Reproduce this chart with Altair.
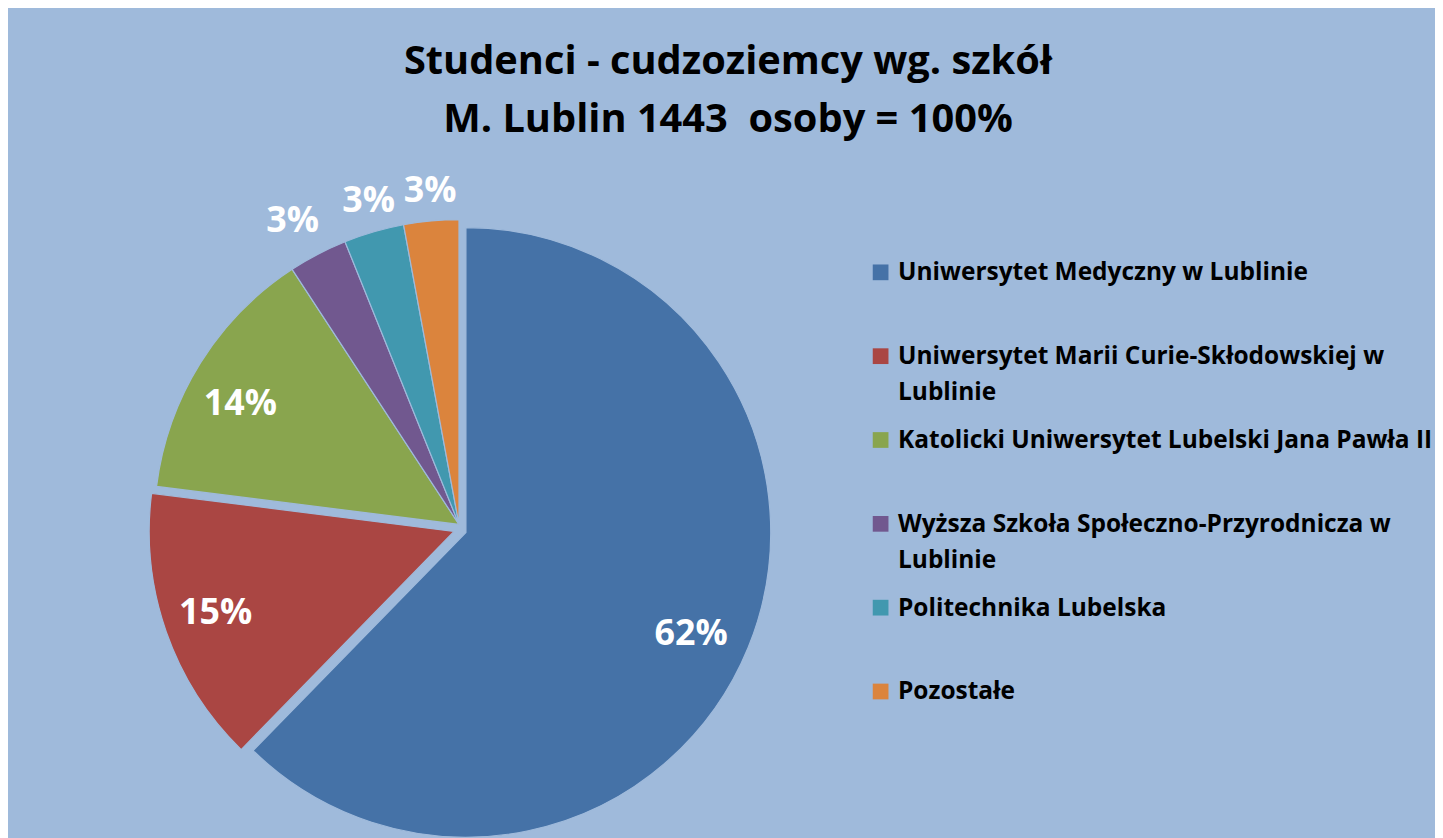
import math
import altair as alt
import pandas as pd

# ---- data ----
schools = [
    "Uniwersytet Medyczny w Lublinie",
    "Uniwersytet Marii Curie-Skłodowskiej w Lublinie",
    "Katolicki Uniwersytet Lubelski Jana Pawła II",
    "Wyższa Szkoła Społeczno-Przyrodnicza w Lublinie",
    "Politechnika Lubelska",
    "Pozostałe",
]
legend_labels = [
    "Uniwersytet Medyczny w Lublinie",
    "Uniwersytet Marii Curie-Skłodowskiej w\nLublinie",
    "Katolicki Uniwersytet Lubelski Jana Pawła II",
    "Wyższa Szkoła Społeczno-Przyrodnicza w\nLublinie",
    "Politechnika Lubelska",
    "Pozostałe",
]
students = [899, 212, 199, 45, 46, 42]
pct_labels = ["62%", "15%", "14%", "3%", "3%", "3%"]
title_lines = ["Studenci - cudzoziemcy wg. szkół", "M. Lublin 1443\u00a0 osoby = 100%"]

colors = ["#4572A7", "#AA4643", "#89A54E", "#71588F", "#4198AF", "#DB843D"]
BG = "#9FBADB"
FONT = "Open Sans"

df = pd.DataFrame({
    "idx": list(range(len(schools))),
    "school": schools,
    "legend_label": legend_labels,
    "students": students,
    "pct": pct_labels,
})
total = sum(students)

base = alt.Chart(df).transform_window(
    cum="sum(students)", sort=[alt.SortField("idx")], frame=[None, 0]
).transform_calculate(
    start="datum.cum - datum.students",
    mid="datum.cum - datum.students / 2",
)

theta_scale = alt.Scale(domain=[0, total], range=[0, 2 * math.pi])
color_enc = alt.Color("school:N", scale=alt.Scale(domain=schools, range=colors), legend=None)

R = 306.5


def slices(cond, cx, cy):
    return base.transform_filter(cond).mark_arc(
        outerRadius=R, stroke=BG, strokeWidth=1.2
    ).encode(
        theta=alt.Theta("start:Q", scale=theta_scale, stack=False),
        theta2="cum:Q",
        color=color_enc,
        x=alt.value(cx),
        y=alt.value(cy),
    )


def labels(cond, cx, cy, r, dx=0, dy=0):
    return base.transform_filter(cond).mark_text(
        radius=r, font=FONT, fontWeight="bold", fontSize=36, color="white",
        align="center", baseline="middle", dx=dx, dy=dy,
    ).encode(
        theta=alt.Theta("mid:Q", scale=theta_scale, stack=False),
        text="pct:N",
        x=alt.value(cx),
        y=alt.value(cy),
    )


BX, BY = 460.5, 525
RX, RY = 448.5, 524
OX, OY = 453.5, 517

blue = slices("datum.idx == 0", BX, BY)
red = slices("datum.idx == 1", RX, RY)
rest = slices("datum.idx >= 2", OX, OY)

lbl_blue = labels("datum.idx == 0", BX, BY, 252, dx=-7, dy=7)
lbl_red = labels("datum.idx == 1", RX, RY, 254, dy=-2)
lbl_green = labels("datum.idx == 2", OX, OY, 251, dx=-7, dy=12)
lbl_s1 = labels("datum.idx == 3", OX, OY, 340, dx=-10, dy=-4)
lbl_s2 = labels("datum.idx == 4", OX, OY, 340, dx=4, dy=1)
lbl_s3 = labels("datum.idx == 5", OX, OY, 340, dx=2, dy=3)

leg_y = alt.Y("school:N", scale=alt.Scale(domain=schools, range=[263.5, 685], padding=0), axis=None)
leg_sym = alt.Chart(df).mark_square(size=250, opacity=1).encode(
    x=alt.value(877.5), y=leg_y, color=color_enc
)
leg_txt = alt.Chart(df).mark_text(
    align="left", baseline="alphabetic", dy=8, lineBreak="\n", lineHeight=36,
    font=FONT, fontWeight="bold", fontSize=24.6, color="black",
).encode(x=alt.value(895), y=leg_y, text="legend_label:N")

title = alt.Chart(pd.DataFrame({"t": ["\n".join(title_lines)]})).mark_text(
    align="center", baseline="alphabetic", lineBreak="\n", lineHeight=57.5,
    font=FONT, fontWeight="bold", fontSize=40, color="black",
).encode(x=alt.value(724), y=alt.value(64.5), text="t:N")

chart = alt.layer(
    rest, red, blue, lbl_blue, lbl_red, lbl_green, lbl_s1, lbl_s2, lbl_s3,
    leg_sym, leg_txt, title
).properties(
    width=1435, height=830, background=BG, padding=0,
    autosize=alt.AutoSizeParams(type="none"),
).configure_view(stroke="transparent")

chart.save("out.html", embed_options={"renderer": "svg", "actions": False})
